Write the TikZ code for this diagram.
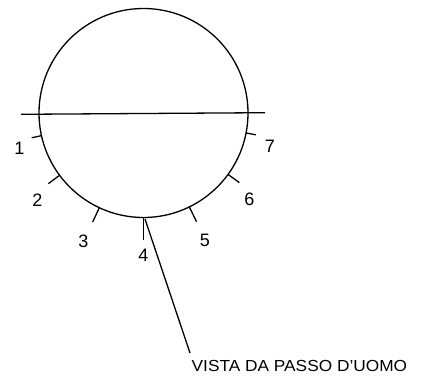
\documentclass[tikz,border=0pt]{standalone}
\usepackage{fontspec}
\setmainfont{Liberation Sans}
\usetikzlibrary{calc}
\begin{document}
\begin{tikzpicture}[x=1pt,y=-1pt,
  ln/.style={line width=1.3pt,black},
  tk/.style={line width=1.3pt,black},
  num/.style={inner sep=0pt,font=\fontsize{18}{18}\selectfont},
  captxt/.style={inner sep=0pt,anchor=base west,font=\fontsize{16}{16}\selectfont}]
\useasboundingbox (0,0) rectangle (421,378);
\coordinate (c) at (143.5,113);
\draw[ln] (c) circle[radius=104.5];
\coordinate (hl) at (21,114.3);
\coordinate (hr) at (265,112.7);
\draw[ln] (hl) -- (hr);
% ticks
\foreach \n/\a/\l in {1/167.5/10,2/143.4/14,3/115/15.8,4/90/22,5/64/16.4,6/36/14,7/11/10}{
  \coordinate (t\n a) at ($(c)+(\a:104.5)$);
  \coordinate (t\n b) at ($(c)+(\a:104.5+\l)$);
  \draw[tk] (t\n a) -- (t\n b);
}
\node[num] (n1) at (19.5,148.3) {1};
\node[num] (n2) at (37.3,200.5) {2};
\node[num] (n3) at (83.3,240.8) {3};
\node[num] (n4) at (143.5,255) {4};
\node[num] (n5) at (205,240.7) {5};
\node[num] (n6) at (249.3,199.3) {6};
\node[num] (n7) at (270,146.5) {7};
\coordinate (la) at (145,219);
\coordinate (lb) at (190,353);
\draw[ln] (la) -- (lb);
\node[captxt] (txt) at (191.5,371) {\scalebox{1.08}[1]{VISTA DA PASSO D'UOMO}};
\end{tikzpicture}
\end{document}
